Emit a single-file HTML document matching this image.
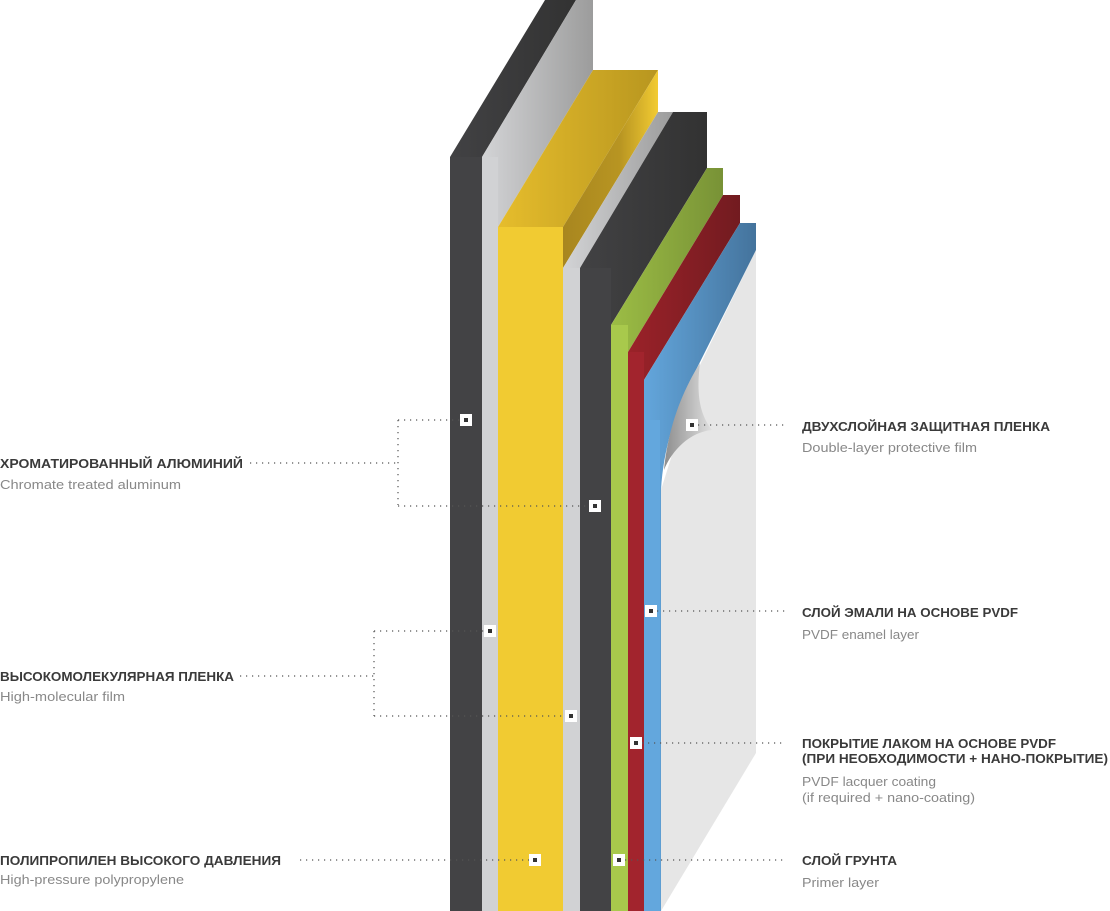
<!DOCTYPE html>
<html><head><meta charset="utf-8"><style>
html,body{margin:0;padding:0;background:#fff;}
svg{display:block;}
.t{font-family:"Liberation Sans",sans-serif;font-weight:bold;font-size:13px;fill:#3a3a3a;}
.s{font-family:"Liberation Sans",sans-serif;font-size:13px;fill:#888;}
.d{stroke:#555;stroke-width:1.2;stroke-dasharray:1.2 4.8;fill:none;}
</style></head><body>
<svg width="1110" height="911" viewBox="0 0 1110 911" xmlns="http://www.w3.org/2000/svg">
<defs>
<linearGradient id="gg" x1="0" x2="1"><stop offset="0" stop-color="#d3d4d6"/><stop offset="1" stop-color="#9c9c9c"/></linearGradient>
<linearGradient id="gy" x1="0" x2="1"><stop offset="0" stop-color="#e6bd2c"/><stop offset="1" stop-color="#b8961f"/></linearGradient>
<linearGradient id="gys" x1="0" x2="1"><stop offset="0" stop-color="#a8861f"/><stop offset="0.6" stop-color="#b89522"/><stop offset="1" stop-color="#f2cb32"/></linearGradient>
<linearGradient id="gd" x1="0" x2="1"><stop offset="0" stop-color="#424244"/><stop offset="1" stop-color="#323232"/></linearGradient>
<linearGradient id="ggr" x1="0" x2="1"><stop offset="0" stop-color="#9cbd45"/><stop offset="1" stop-color="#789236"/></linearGradient>
<linearGradient id="gr" x1="0" x2="1"><stop offset="0" stop-color="#9b2229"/><stop offset="1" stop-color="#721b20"/></linearGradient>
<linearGradient id="gb" x1="0" x2="1"><stop offset="0" stop-color="#63a6dc"/><stop offset="1" stop-color="#44739c"/></linearGradient>
<linearGradient id="gc" x1="0" x2="1"><stop offset="0" stop-color="#8d8d8d"/><stop offset="1" stop-color="#e0e0e0"/></linearGradient>
</defs>
<!-- film -->
<path d="M756,250 L756,753 L661,911 L661,490 L700,365 Z" fill="#e6e6e6"/>
<!-- dark 1 -->
<polygon points="450,157 482,157 576,0 545,0" fill="url(#gd)"/>
<rect x="450" y="157" width="32" height="754" fill="#434345"/>
<!-- light 1 -->
<polygon points="482,157 576,0 593,0 593,70 498,227 498,157" fill="url(#gg)"/>
<rect x="482" y="157" width="16" height="754" fill="#d1d2d4"/>
<!-- yellow -->
<polygon points="498,227 563,227 658,70 593,70" fill="url(#gy)"/>
<polygon points="563,227 658,70 658,112 563,268" fill="url(#gys)"/>
<rect x="498" y="227" width="65" height="684" fill="#f1cb32"/>
<!-- light 2 -->
<polygon points="563,268 580,268 673,112 658,112" fill="url(#gg)"/>
<rect x="563" y="268" width="17" height="643" fill="#d1d2d4"/>
<!-- dark 2 -->
<polygon points="580,268 611,268 611,325 707,168 707,112 673,112" fill="url(#gd)"/>
<rect x="580" y="268" width="31" height="643" fill="#434345"/>
<!-- green -->
<polygon points="611,325 707,168 723,168 723,195 628,352 611,352" fill="url(#ggr)"/>
<rect x="611" y="325" width="17" height="586" fill="#a8c94c"/>
<!-- red -->
<polygon points="628,352 723,195 740,195 740,223 644,380 628,380" fill="url(#gr)"/>
<rect x="628" y="352" width="16" height="559" fill="#a2242d"/>
<!-- blue -->
<path d="M644,380 L740,223 L756,223 L756,250 L700,362 C680,400 664,440 661,490 L661,911 L644,911 Z" fill="url(#gb)"/>
<rect x="644" y="420" width="16" height="491" fill="#63a7dd"/>
<!-- curl -->
<path d="M700,363 C696,395 700,415 712,430 C690,432 672,450 664,470 C668,430 680,395 700,363 Z" fill="url(#gc)"/>
<!-- dotted lines -->
<path class="d" d="M250,463 H398 M398,420 V505 M398,420 H460 M398,506 H590"/>
<path class="d" d="M240,676 H374 M374,631 V716 M374,631 H484 M374,716 H565"/>
<path class="d" d="M300,860 H530"/>
<path class="d" d="M698,425 H786 M657,611 H786 M642,743 H786 M625,860 H786"/>
<!-- markers -->
<g fill="#fff">
<rect x="460" y="414" width="12" height="12"/><rect x="589" y="500" width="12" height="12"/>
<rect x="484" y="625" width="12" height="12"/><rect x="565" y="710" width="12" height="12"/>
<rect x="529" y="854" width="12" height="12"/><rect x="686" y="419" width="12" height="12"/>
<rect x="645" y="605" width="12" height="12"/><rect x="630" y="737" width="12" height="12"/>
<rect x="613" y="854" width="12" height="12"/>
</g>
<g fill="#333">
<rect x="464" y="418" width="4" height="4"/><rect x="593" y="504" width="4" height="4"/>
<rect x="488" y="629" width="4" height="4"/><rect x="569" y="714" width="4" height="4"/>
<rect x="533" y="858" width="4" height="4"/><rect x="690" y="423" width="4" height="4"/>
<rect x="649" y="609" width="4" height="4"/><rect x="634" y="741" width="4" height="4"/>
<rect x="617" y="858" width="4" height="4"/>
</g>
<!-- labels -->
<text class="t" x="0" y="468" textLength="243" lengthAdjust="spacingAndGlyphs">ХРОМАТИРОВАННЫЙ АЛЮМИНИЙ</text>
<text class="s" x="0" y="489" textLength="181" lengthAdjust="spacingAndGlyphs">Chromate treated aluminum</text>
<text class="t" x="0" y="681" textLength="234" lengthAdjust="spacingAndGlyphs">ВЫСОКОМОЛЕКУЛЯРНАЯ ПЛЕНКА</text>
<text class="s" x="0" y="701" textLength="125" lengthAdjust="spacingAndGlyphs">High-molecular film</text>
<text class="t" x="0" y="865" textLength="281" lengthAdjust="spacingAndGlyphs">ПОЛИПРОПИЛЕН ВЫСОКОГО ДАВЛЕНИЯ</text>
<text class="s" x="0" y="884" textLength="184" lengthAdjust="spacingAndGlyphs">High-pressure polypropylene</text>
<text class="t" x="802" y="431" textLength="248" lengthAdjust="spacingAndGlyphs">ДВУХСЛОЙНАЯ ЗАЩИТНАЯ ПЛЕНКА</text>
<text class="s" x="802" y="452" textLength="175" lengthAdjust="spacingAndGlyphs">Double-layer protective film</text>
<text class="t" x="802" y="617" textLength="216" lengthAdjust="spacingAndGlyphs">СЛОЙ ЭМАЛИ НА ОСНОВЕ PVDF</text>
<text class="s" x="802" y="639" textLength="117" lengthAdjust="spacingAndGlyphs">PVDF enamel layer</text>
<text class="t" x="802" y="748" textLength="254" lengthAdjust="spacingAndGlyphs">ПОКРЫТИЕ ЛАКОМ НА ОСНОВЕ PVDF</text>
<text class="t" x="802" y="763" textLength="306" lengthAdjust="spacingAndGlyphs">(ПРИ НЕОБХОДИМОСТИ + НАНО-ПОКРЫТИЕ)</text>
<text class="s" x="802" y="786" textLength="134" lengthAdjust="spacingAndGlyphs">PVDF lacquer coating</text>
<text class="s" x="802" y="802" textLength="173" lengthAdjust="spacingAndGlyphs">(if required + nano-coating)</text>
<text class="t" x="802" y="865" textLength="95" lengthAdjust="spacingAndGlyphs">СЛОЙ ГРУНТА</text>
<text class="s" x="802" y="887" textLength="77" lengthAdjust="spacingAndGlyphs">Primer layer</text>
</svg>
</body></html>
